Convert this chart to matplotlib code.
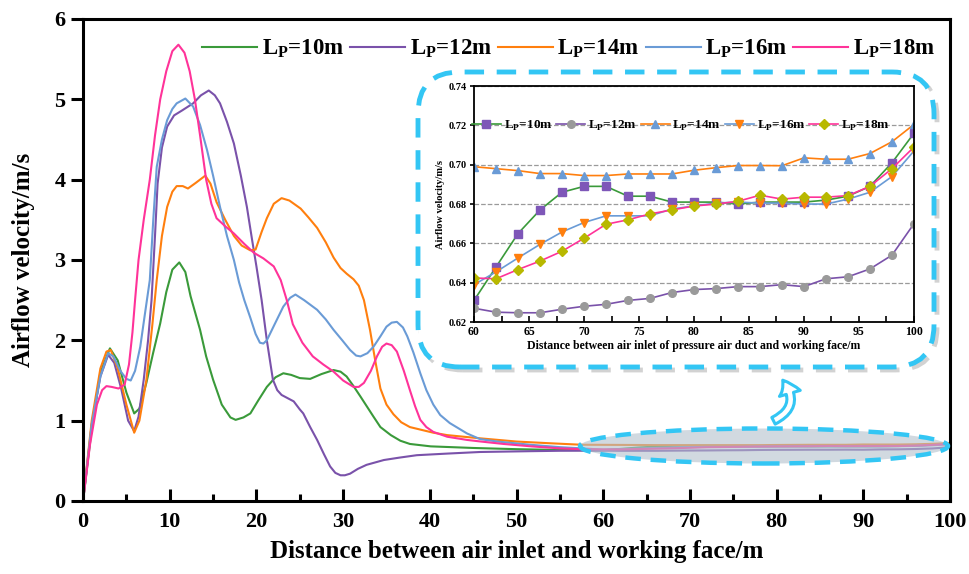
import matplotlib
matplotlib.use("Agg")
import matplotlib.pyplot as plt
from matplotlib.patches import FancyBboxPatch, Ellipse, FancyArrowPatch
from matplotlib.transforms import IdentityTransform
from matplotlib.ticker import MultipleLocator, FormatStrFormatter

plt.rcParams['font.family'] = 'Liberation Serif'
plt.rcParams['font.weight'] = 'bold'
plt.rcParams['mathtext.fontset'] = 'custom'
plt.rcParams['mathtext.rm'] = 'Liberation Serif:bold'
plt.rcParams['mathtext.bf'] = 'Liberation Serif:bold'

labels = ['L$_{\\mathrm{P}}$=10m', 'L$_{\\mathrm{P}}$=12m', 'L$_{\\mathrm{P}}$=14m',
          'L$_{\\mathrm{P}}$=16m', 'L$_{\\mathrm{P}}$=18m']
line_colors = ['#3a9a3a', '#7a52aa', '#ff7f0e', '#6a9bd6', '#ff3399']

# far-field section (60-100 m), sampled every 2 m
far_x = [60, 62, 64, 66, 68, 70, 72, 74, 76, 78, 80, 82, 84, 86, 88, 90, 92, 94, 96, 98, 100]
far_10 = [0.631, 0.648, 0.665, 0.677, 0.686, 0.689, 0.689, 0.684, 0.684, 0.681, 0.681,
          0.681, 0.680, 0.681, 0.681, 0.681, 0.682, 0.684, 0.689, 0.701, 0.716]
far_12 = [0.627, 0.625, 0.6247, 0.6247, 0.6265, 0.628, 0.629, 0.631, 0.632, 0.635, 0.6365,
          0.637, 0.638, 0.638, 0.639, 0.638, 0.642, 0.643, 0.647, 0.654, 0.670]
far_14 = [0.699, 0.698, 0.697, 0.6955, 0.6955, 0.6945, 0.6945, 0.6953, 0.6953, 0.6953, 0.6972,
          0.6985, 0.6996, 0.6996, 0.6995, 0.7035, 0.7028, 0.7028, 0.7057, 0.7117, 0.7205]
far_16 = [0.639, 0.6455, 0.6526, 0.6595, 0.6658, 0.6706, 0.674, 0.674, 0.674, 0.6775, 0.679,
          0.6805, 0.681, 0.6805, 0.6805, 0.680, 0.680, 0.6825, 0.686, 0.694, 0.707]
far_18 = [0.6424, 0.642, 0.6467, 0.651, 0.656, 0.6626, 0.6697, 0.672, 0.675, 0.677, 0.679,
          0.680, 0.6814, 0.6845, 0.6825, 0.6835, 0.6835, 0.6843, 0.689, 0.698, 0.709]

# near-field section (0-58 m)
x_10 = [0, 1, 2, 3.1, 4, 5, 5.9, 6.5, 7.3, 8.1, 8.9, 9.6, 10.3, 11.1, 11.8, 12.4, 13.5, 14.2,
        15.0, 16.0, 17.0, 17.6, 18.5, 19.3, 20.2, 21.2, 22.2, 23.1, 24.0, 25.0, 26.2, 27.5,
        28.9, 29.7, 30.4, 31.2, 32.0, 33.5, 34.3, 35.5, 36.6, 37.7, 40.1, 45, 50, 55]
v_10 = [0, 0.9, 1.6, 1.90, 1.75, 1.35, 1.09, 1.15, 1.47, 1.85, 2.21, 2.6, 2.88, 2.97, 2.85,
        2.55, 2.13, 1.8, 1.51, 1.2, 1.04, 1.01, 1.04, 1.09, 1.25, 1.42, 1.54, 1.59, 1.57, 1.53,
        1.52, 1.58, 1.63, 1.61, 1.55, 1.43, 1.30, 1.05, 0.92, 0.82, 0.75, 0.71, 0.68, 0.66,
        0.645, 0.635]

x_12 = [0, 1, 2, 2.9, 3.6, 4.4, 5.2, 5.9, 6.4, 7.0, 7.5, 7.9, 8.3, 8.6, 9.1, 9.7, 10.5, 11.4,
        12.7, 13.6, 14.5, 15.2, 15.8, 16.6, 17.4, 18.2, 18.9, 19.5, 20.0, 20.6, 21.2, 21.9,
        22.4, 22.9, 23.6, 24.3, 25.0, 25.4, 26.2, 27.0, 27.8, 28.5, 29.1, 29.7, 30.2, 30.8,
        31.7, 32.7, 34.7, 36.5, 38.5, 42, 45.8, 51.6, 55]
v_12 = [0, 0.95, 1.55, 1.82, 1.72, 1.4, 1.0, 0.87, 1.05, 1.51, 2.0, 2.5, 3.3, 3.95, 4.4, 4.66,
        4.8, 4.86, 4.95, 5.05, 5.11, 5.05, 4.95, 4.72, 4.45, 4.05, 3.66, 3.25, 2.92, 2.5, 2.0,
        1.51, 1.38, 1.32, 1.28, 1.24, 1.14, 1.09, 0.92, 0.76, 0.58, 0.43, 0.35, 0.32, 0.32,
        0.34, 0.40, 0.45, 0.51, 0.54, 0.57, 0.59, 0.61, 0.62, 0.625]

x_14 = [0, 1, 2, 2.7, 3.2, 4, 5, 5.9, 6.5, 7.3, 8.0, 8.5, 9.1, 9.7, 10.3, 10.8, 11.5, 12.1, 13,
        14.1, 14.7, 15.4, 16.4, 17.4, 18.3, 19.3, 19.9, 20.6, 21.2, 22.0, 22.9, 23.8, 25.1,
        26.0, 27.0, 28.0, 28.9, 29.7, 30.4, 31.2, 31.8, 32.4, 33.1, 33.7, 34.3, 35.0, 35.8,
        36.7, 37.7, 40.4, 42, 45.8, 50, 53.6, 57.5]
v_14 = [0, 1.0, 1.65, 1.86, 1.88, 1.65, 1.2, 0.85, 1.0, 1.5, 2.2, 2.75, 3.3, 3.66, 3.85, 3.92,
        3.92, 3.89, 3.96, 4.05, 3.95, 3.72, 3.5, 3.3, 3.18, 3.12, 3.13, 3.35, 3.52, 3.7, 3.77,
        3.74, 3.64, 3.53, 3.40, 3.22, 3.03, 2.9, 2.83, 2.76, 2.68, 2.5, 2.13, 1.75, 1.4, 1.2,
        1.08, 0.98, 0.92, 0.85, 0.82, 0.78, 0.74, 0.72, 0.70]

x_16 = [0, 1, 2, 2.9, 3.5, 4.3, 5.0, 5.5, 6.0, 6.6, 7.1, 7.7, 8.1, 8.5, 9.1, 9.7, 10.3, 10.8,
        11.8, 12.7, 13.5, 14.3, 15.0, 15.8, 16.6, 17.4, 18.0, 18.6, 19.3, 19.9, 20.4, 20.8,
        21.2, 22.1, 23.1, 23.9, 24.5, 25.5, 27.0, 28.0, 28.9, 29.9, 30.8, 31.5, 32.0, 32.8,
        33.5, 34.3, 35.0, 35.6, 36.2, 36.9, 37.4, 38.1, 38.9, 39.6, 40.4, 41.2, 42.3, 44.3,
        45.8, 47.8, 51.6, 55, 57.4]
v_16 = [0, 0.95, 1.55, 1.84, 1.8, 1.62, 1.52, 1.50, 1.62, 1.92, 2.3, 2.75, 3.5, 4.16, 4.5, 4.74,
        4.88, 4.95, 5.01, 4.91, 4.68, 4.37, 4.05, 3.66, 3.3, 3.0, 2.72, 2.5, 2.28, 2.08, 1.97,
        1.96, 2.0, 2.2, 2.42, 2.53, 2.57, 2.5, 2.38, 2.26, 2.13, 2.0, 1.88, 1.81, 1.80, 1.84,
        1.92, 2.05, 2.17, 2.22, 2.23, 2.16, 2.05, 1.85, 1.59, 1.38, 1.2, 1.07, 0.97, 0.84,
        0.77, 0.74, 0.70, 0.67, 0.656]

x_18 = [0, 0.8, 1.6, 2.2, 2.7, 3.3, 4.1, 4.8, 5.3, 5.7, 6.0, 6.4, 7.0, 7.7, 8.3, 8.9, 9.6,
        10.3, 11.0, 11.7, 12.3, 12.9, 13.5, 14.2, 14.8, 15.4, 16.4, 17.4, 18.6, 19.7, 20.8,
        22.0, 22.8, 23.5, 24.2, 25.3, 26.5, 27.7, 28.9, 30.0, 31.2, 31.8, 32.4, 33.2, 33.9,
        34.5, 35.0, 35.6, 36.2, 37.0, 37.7, 38.3, 38.9, 39.6, 40.4, 42.0, 44.3, 45.9, 48.5,
        51.7, 55, 57.5]
v_18 = [0, 0.7, 1.2, 1.38, 1.43, 1.42, 1.40, 1.45, 1.7, 2.1, 2.5, 3.0, 3.5, 4.0, 4.55, 5.0,
        5.35, 5.6, 5.68, 5.58, 5.35, 5.0, 4.55, 4.0, 3.7, 3.52, 3.42, 3.33, 3.2, 3.09, 3.02,
        2.92, 2.75, 2.5, 2.2, 1.97, 1.80, 1.70, 1.61, 1.50, 1.42, 1.42, 1.47, 1.62, 1.80, 1.92,
        1.96, 1.94, 1.86, 1.62, 1.38, 1.18, 1.01, 0.92, 0.86, 0.80, 0.76, 0.74, 0.71, 0.68,
        0.655, 0.645]

near = [(x_10, v_10), (x_12, v_12), (x_14, v_14), (x_16, v_16), (x_18, v_18)]
far = [far_10, far_12, far_14, far_16, far_18]

fig = plt.figure(figsize=(9.69, 5.74), dpi=100)
ax = fig.add_axes([0.0857, 0.1272, 0.8947, 0.8397])

for (xs, vs), fv, c, lab in zip(near, far, line_colors, labels):
    ax.plot(list(xs) + far_x, list(vs) + fv, color=c, lw=1.5, label=lab,
            solid_joinstyle='round')

ax.set_xlim(0, 100)
ax.set_ylim(0, 6)
ax.xaxis.set_major_locator(MultipleLocator(10))
ax.xaxis.set_minor_locator(MultipleLocator(5))
ax.yaxis.set_major_locator(MultipleLocator(1))
ax.tick_params(axis='x', which='major', direction='in', length=9, width=2.2, labelsize=16, pad=8)
ax.tick_params(axis='x', which='minor', direction='in', length=5, width=2.2)
ax.tick_params(axis='y', which='major', direction='out', length=9, width=2.2, labelsize=16)
for s in ax.spines.values():
    s.set_linewidth(2.2)
ax.set_xlabel('Distance between air inlet and working face/m', fontsize=18, fontweight='bold', labelpad=6)
ax.set_ylabel('Airflow velocity/m/s', fontsize=18, fontweight='bold', labelpad=14)

ax.legend(loc='upper right', bbox_to_anchor=(0.999, 0.99), ncol=5, frameon=False,
          fontsize=16.5, handlelength=2.4, handletextpad=0.2, columnspacing=0.25,
          borderaxespad=0.2)

# zoom-in box (display pixels)
blue = '#33c6f4'
pix = IdentityTransform()
shadow = FancyBboxPatch((421, 204), 516, 295, boxstyle='round,pad=0,rounding_size=42',
                        transform=pix, facecolor='none', edgecolor='#808080', alpha=0.35,
                        lw=3.5, linestyle=(0, (4, 2.6)), zorder=2)
box = FancyBboxPatch((418, 207), 516, 295, boxstyle='round,pad=0,rounding_size=42',
                     transform=pix, facecolor='white', edgecolor=blue,
                     lw=3.5, linestyle=(0, (4, 2.6)), zorder=2)
fig.patches.extend([shadow, box])

ell = Ellipse((764, 128), 368, 35, transform=pix, facecolor='#b3c0cc', alpha=0.6,
              edgecolor='none', zorder=2)
ell_edge = Ellipse((764, 128), 368, 35, transform=pix, facecolor='none', edgecolor=blue,
                   lw=3.2, linestyle=(0, (3.5, 2.2)), zorder=2)
arrow = FancyArrowPatch((771, 152), (781, 196), transform=pix, connectionstyle='arc3,rad=0.65',
                        arrowstyle='simple,head_length=0.9,head_width=1.3,tail_width=0.45',
                        mutation_scale=12, facecolor='white', edgecolor=blue, lw=2.2, zorder=2)
fig.patches.extend([ell, ell_edge, arrow])

# inset
ins = fig.add_axes([0.4892, 0.439, 0.454, 0.411], zorder=3)
marker_specs = [('s', '#7e57b8'), ('o', '#9a9a9a'), ('^', '#6a9bd6'), ('v', '#ff7f0e'), ('D', '#b8b800')]
for fv, c, (m, mc), lab in zip(far, line_colors, marker_specs, labels):
    ins.plot(far_x, fv, color=c, lw=1.2, marker=m, markersize=5.5 if m != 'D' else 4.8,
             markerfacecolor=mc, markeredgecolor=mc, label=lab)
ins.set_xlim(60, 100)
ins.set_ylim(0.62, 0.74)
ins.xaxis.set_major_locator(MultipleLocator(5))
ins.xaxis.set_minor_locator(MultipleLocator(2.5))
ins.yaxis.set_major_locator(MultipleLocator(0.02))
ins.yaxis.set_major_formatter(FormatStrFormatter('%.2f'))
ins.yaxis.grid(True, linestyle='--', color='#9a9a9a', lw=0.9)
ins.tick_params(axis='x', which='both', direction='in', length=4, width=1.2, labelsize=8.5, pad=3)
ins.tick_params(axis='y', direction='out', length=3, width=1.2, labelsize=7.5, pad=2)
for s in ins.spines.values():
    s.set_linewidth(1.3)
ins.set_xlabel('Distance between air inlet of pressure air duct and working face/m',
               fontsize=8.5, fontweight='bold', labelpad=1)
ins.set_ylabel('Airflow velocity/m/s', fontsize=7.5, fontweight='bold', labelpad=3)
ins.legend(loc='center', bbox_to_anchor=(0.47, 0.833), ncol=5, frameon=False, fontsize=9.5,
           handlelength=2.2, handletextpad=0.2, columnspacing=0.3, borderaxespad=0)

fig.savefig('out.png', dpi=100)
